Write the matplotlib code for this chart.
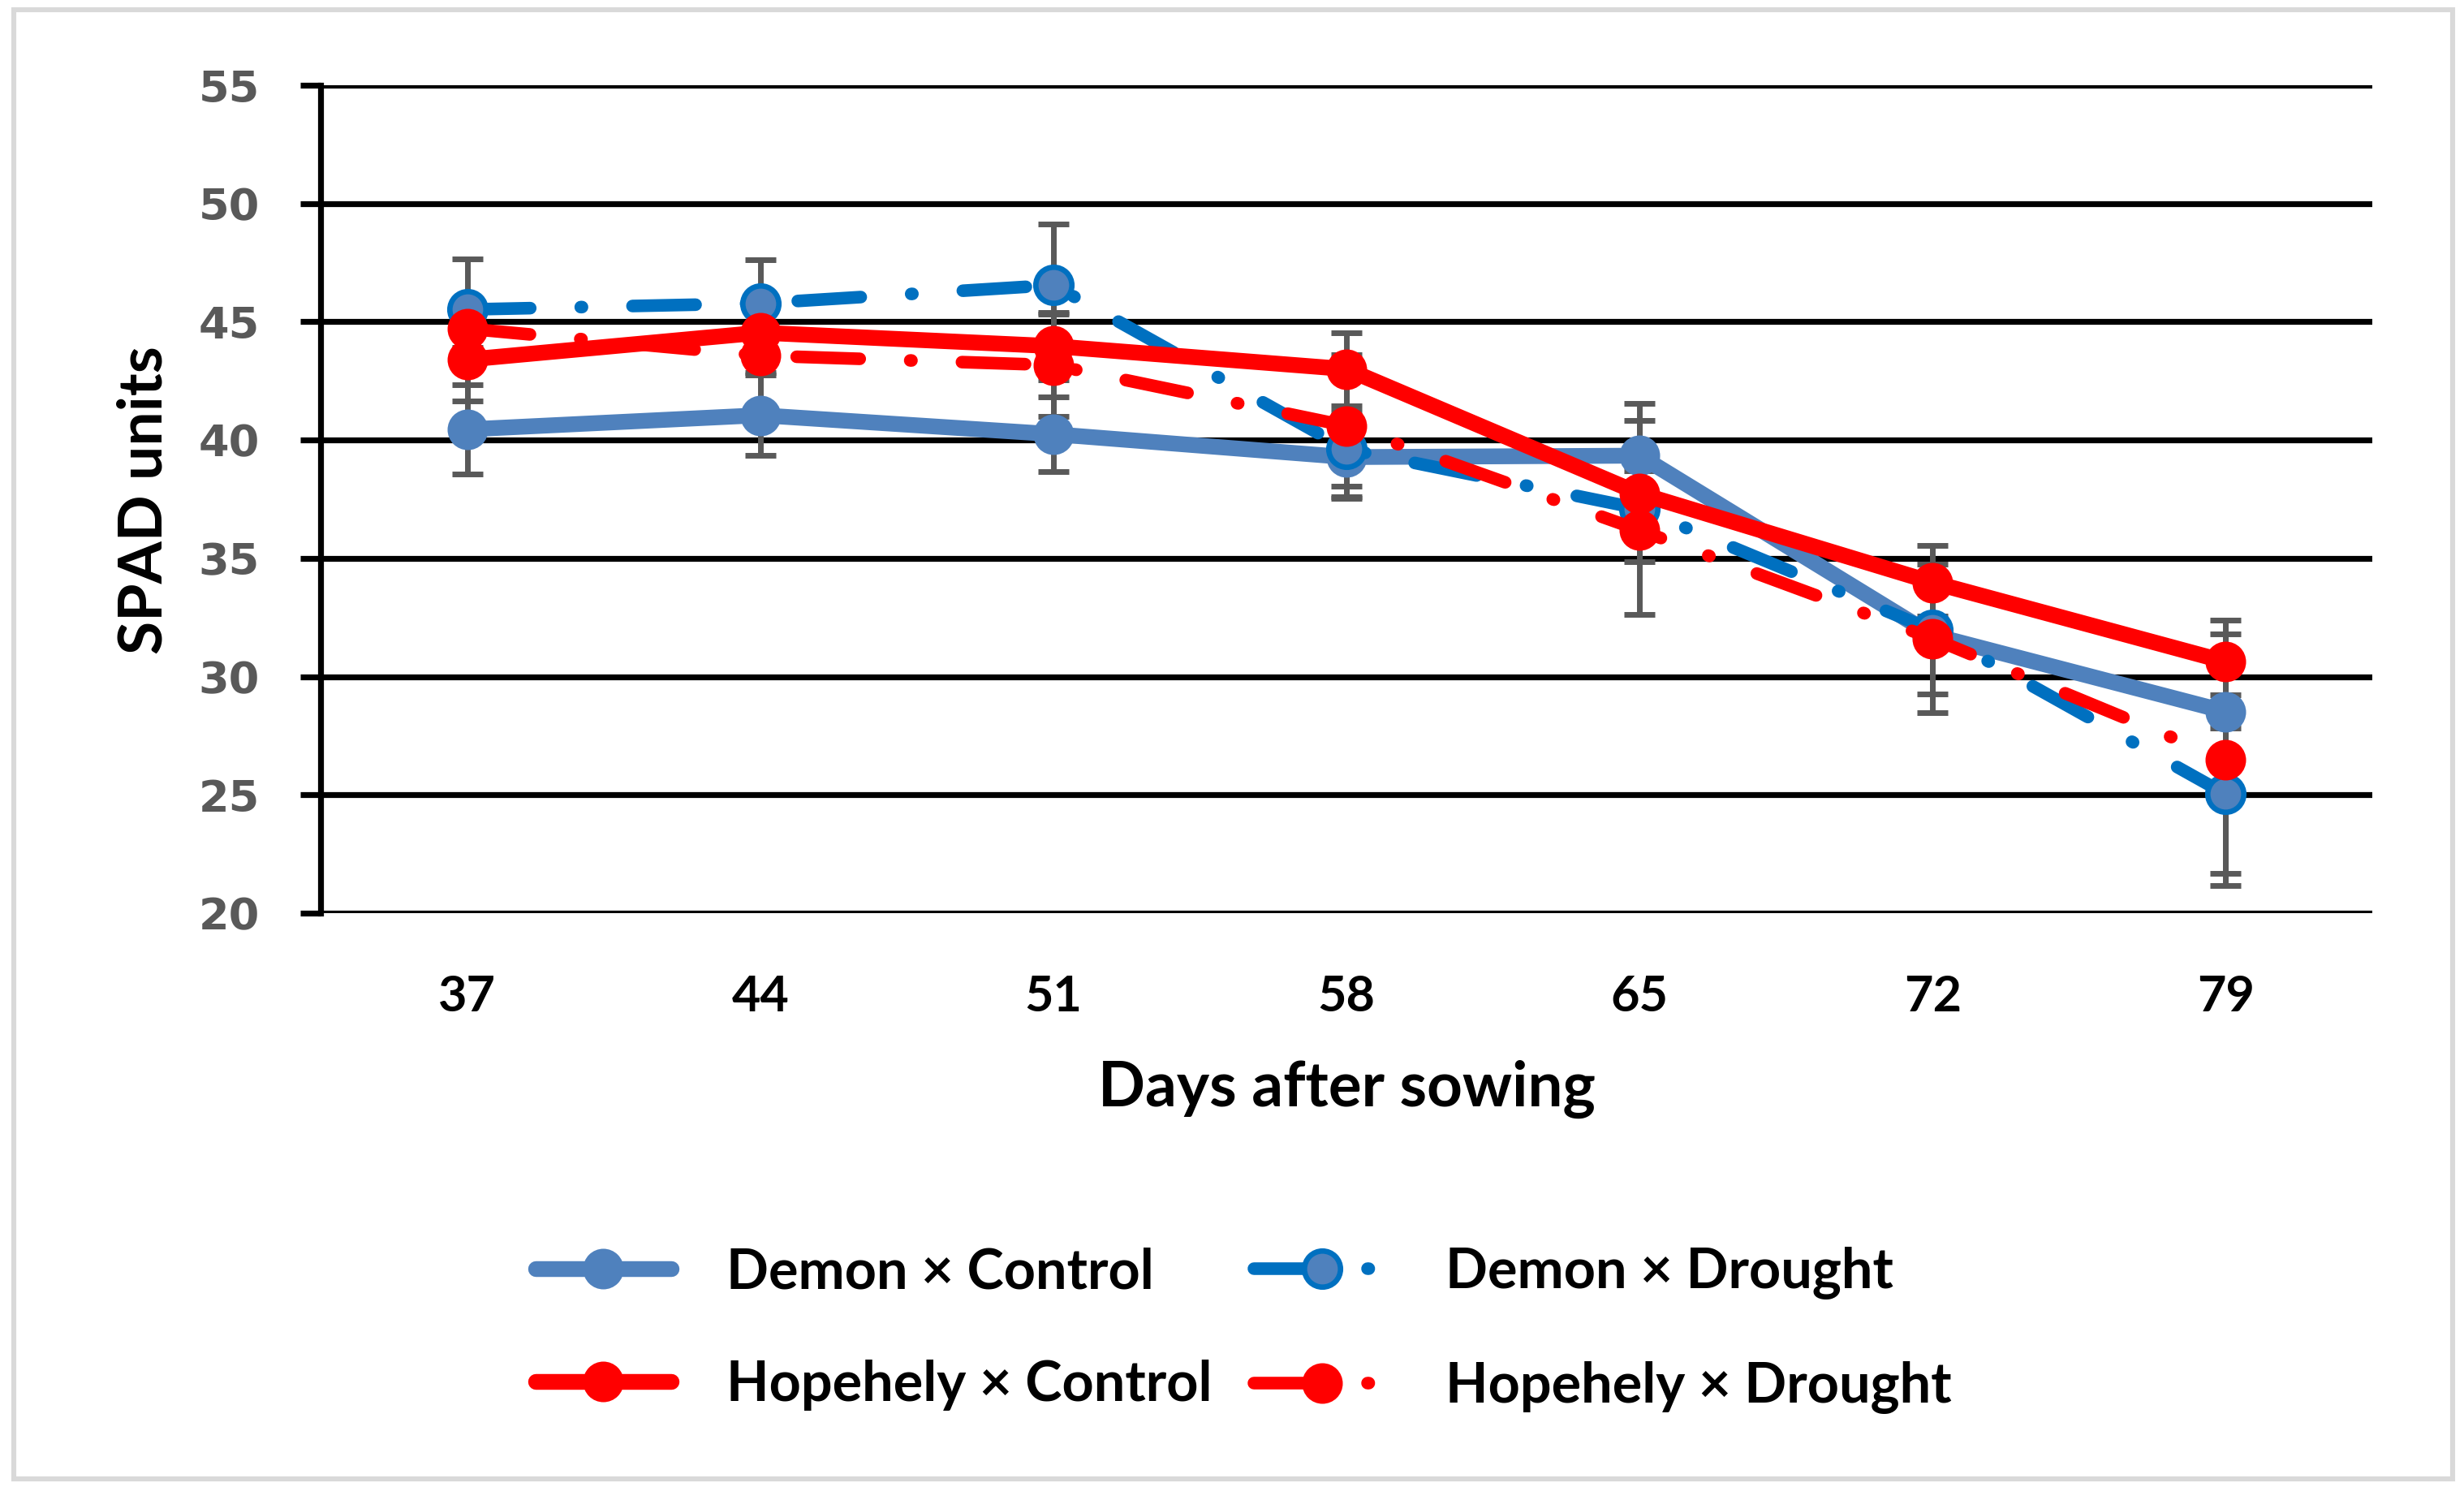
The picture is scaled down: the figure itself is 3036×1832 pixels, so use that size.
import matplotlib
matplotlib.use("Agg")
import matplotlib.pyplot as plt
from matplotlib.patches import Rectangle

#%% data (SPAD readings, mean and error)
days = ["37", "44", "51", "58", "65", "72", "79"]

demon_control = [40.45, 41.05, 40.25, 39.28, 39.34, 31.75, 28.52]
demon_control_err = [1.90, 1.71, 1.58, 1.75, 1.48, 2.50, 0.70]

demon_drought = [45.52, 45.78, 46.55, 39.62, 37.10, 31.96, 25.03]
demon_drought_err = [2.14, 1.85, 2.57, 1.58, 4.46, 0.60, 3.36]

hope_control = [43.40, 44.54, 43.97, 43.00, 37.74, 33.98, 30.63]
hope_control_err = [1.75, 0.80, 1.43, 1.54, 0.97, 1.58, 1.75]

hope_drought = [44.71, 43.57, 43.17, 40.60, 36.19, 31.61, 26.49]
hope_drought_err = [0.80, 0.70, 2.17, 3.00, 1.34, 3.15, 5.32]

labels = ["Demon \u00d7 Control", "Demon \u00d7 Drought",
          "Hopehely \u00d7 Control", "Hopehely \u00d7 Drought"]

#%% figure
W, H, DPI = 3036, 1832, 200
fig = plt.figure(figsize=(W / DPI, H / DPI), dpi=DPI, facecolor="w")
ax = fig.add_axes([395 / W, 1 - 1125 / H, (2923 - 395) / W, (1125 - 105) / H])

# outer frame
fig.patches.append(Rectangle((17 / W, 10 / H), (3022 - 17) / W, (1820 - 10) / H,
                             transform=fig.transFigure, fill=False,
                             edgecolor="#d9d9d9", linewidth=2.2))

x = list(range(len(days)))
err_kw = dict(fmt="none", ecolor="#595959", elinewidth=2.5, capsize=7,
              capthick=2.5, zorder=2)
ax.errorbar(x, demon_control, yerr=demon_control_err, **err_kw)
ax.errorbar(x, demon_drought, yerr=demon_drought_err, **err_kw)
ax.errorbar(x, hope_control, yerr=hope_control_err, **err_kw)
ax.errorbar(x, hope_drought, yerr=hope_drought_err, **err_kw)

dash = [5, 4, 0.1, 4]
l1, = ax.plot(x, demon_control, color="#4f81bd", lw=7, marker="o", ms=17,
              mfc="#4f81bd", mec="#4f81bd", zorder=3, solid_capstyle="round")
l2, = ax.plot(x, demon_drought, color="#0070c0", lw=5.6, marker="o", ms=16,
              mfc="#4f81bd", mec="#0070c0", mew=2.4, dashes=dash,
              dash_capstyle="round", zorder=4)
l3, = ax.plot(x, hope_control, color="#ff0000", lw=7, marker="o", ms=17,
              mfc="#ff0000", mec="#ff0000", zorder=5, solid_capstyle="round")
l4, = ax.plot(x, hope_drought, color="#ff0000", lw=5.6, marker="o", ms=17,
              mfc="#ff0000", mec="#ff0000", dashes=dash,
              dash_capstyle="round", zorder=6)

ax.set_xlim(-0.5, 6.5)
ax.set_ylim(20, 55)
ax.set_yticks(range(20, 56, 5))
ax.set_xticks(x)
ax.set_xticklabels(days, fontfamily="Lato", fontweight="bold", fontsize=22)
for t in ax.get_yticklabels():
    t.set_fontfamily("DejaVu Sans")
    t.set_fontweight("bold")
    t.set_fontsize(19.5)
    t.set_color("#595959")
ax.grid(axis="y", color="black", linewidth=2.6, zorder=0)
ax.set_axisbelow(True)
for s in ["top", "right", "bottom"]:
    ax.spines[s].set_visible(False)
ax.spines["left"].set_linewidth(2.6)
ax.tick_params(axis="y", length=9, width=2.6, color="black", pad=18)
ax.tick_params(axis="x", length=0, pad=27)

fig.text(1659 / W, 1 - 1342 / H, "Days after sowing", ha="center", va="center",
         fontfamily="Lato", fontweight="bold", fontsize=27.5)
fig.text(178 / W, 1 - 616 / H, "SPAD units", ha="center", va="center",
         rotation=90, fontfamily="Lato", fontweight="bold", fontsize=27)

leg = fig.legend([l1, l3, l2, l4], [labels[0], labels[2], labels[1], labels[3]],
                 ncol=2, loc="center", bbox_to_anchor=(1532 / W, 1 - 1639 / H),
                 frameon=False, handlelength=2.45, handletextpad=1.0,
                 columnspacing=0.75, labelspacing=1.1,
                 prop=dict(family="Lato", weight="bold", size=24.6))

fig.savefig("out.png", dpi=DPI)
